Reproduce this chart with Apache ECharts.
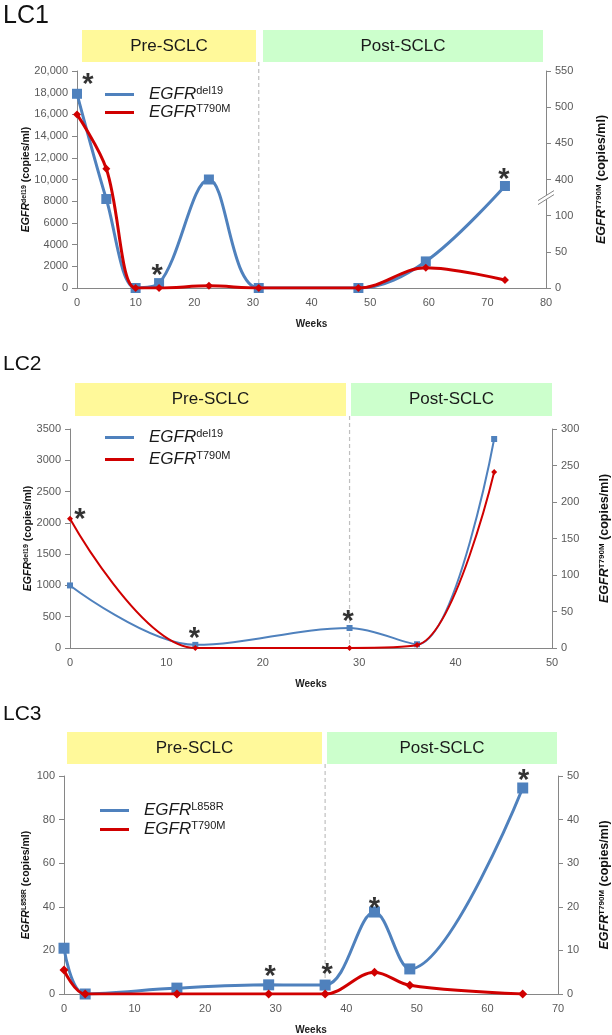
<!DOCTYPE html>
<html><head><meta charset="utf-8">
<script src="https://cdn.jsdelivr.net/npm/echarts@6/dist/echarts.min.js"></script>
<style>html,body{margin:0;padding:0;background:#fff}#c{width:612px;height:1035px}</style>
</head><body><div id="c"></div>
<script>
// ---------- DATA ----------
// LC1
const lc1Weeks = [0, 5, 10, 14, 22.5, 31, 48, 59.5, 73];
const lc1Del19 = [17900, 8200, 0, 450, 10000, 0, 0, 2450, 9400];
const lc1T790M = [490, 415, 0, 0, 3, 0, 0, 28, 11];
const lc1StarWeeks = [0, 14, 73];
const lc1StarOn = ['a', 'a', 'a'];
const lc1RightTicks = ['0', '50', '100', '400', '450', '500', '550'];
const lc1Boundary = 31;
// LC2
const lc2Weeks = [0, 13, 29, 36, 44];
const lc2Del19 = [1000, 50, 320, 60, 3340];
const lc2T790M = [177, 0, 0, 4, 241];
const lc2StarWeeks = [0, 13, 29];
const lc2StarOn = ['b', 'a', 'a'];
const lc2Boundary = 29;
// LC3
const lc3Weeks = [0, 3, 16, 29, 37, 44, 49, 65];
const lc3L858R = [21, 0, 2.7, 4.2, 4.1, 37.6, 11.5, 94.5];
const lc3T790M = [5.5, 0, 0, 0, 0, 5, 2, 0];
const lc3StarWeeks = [29, 37, 44, 65];
const lc3StarOn = ['a', 'a', 'a', 'a'];
const lc3Boundary = 37;

// ---------- STYLE / LAYOUT ----------
const FONT = '"Liberation Sans", Arial, sans-serif';
const BLUE = '#4F81BD', RED = '#D00000';
const AXIS = '#868686', LBL = '#595959';
const YELLOW = '#FFF99A', GREEN = '#CCFFCC';
const starOffsets = {
  1: [[11, -8.5], [-2, -7.5], [-1, -6.5]],
  2: [[10, 1.5], [-1, -5.5], [-1.5, -5.5]],
  3: [[1.5, -7.5], [2, -10.5], [0, -3.5], [1, -6.5]]
};
const panels = [
  {grid: {left: 77, right: 66, top: 71, height: 217}, title: 'LC1', titleSize: 25, titleY: 16,
   boxes: [[82, 30, 174, 32], [263, 30, 280, 32]], lw: 3, bs: 10, rs: 8,
   legendTop: 80, legendLeft: 100, legendGap: 0, leftNameGap: 45, rightNameGap: 49},
  {grid: {left: 70, right: 60, top: 429, height: 219}, title: 'LC2', titleSize: 21, titleY: 364,
   boxes: [[75, 383, 271, 33], [351, 383, 201, 33]], lw: 2, bs: 6, rs: 6,
   legendTop: 423, legendLeft: 100, legendGap: 4, leftNameGap: 36, rightNameGap: 46},
  {grid: {left: 64, right: 54, top: 776, height: 218}, title: 'LC3', titleSize: 21, titleY: 714,
   boxes: [[67, 732, 255, 32], [327, 732, 230, 32]], lw: 3, bs: 11, rs: 9,
   legendTop: 796, legendLeft: 95, legendGap: 1, leftNameGap: 32, rightNameGap: 40}
];

const lc1Map = v => v <= 100 ? v : v - 250; // broken right axis of LC1

const panelData = [
  {weeks: lc1Weeks, a: lc1Del19, b: lc1T790M, aName: 'del19', bMap: lc1Map,
   stars: lc1StarWeeks, starOn: lc1StarOn, boundary: lc1Boundary,
   x: {max: 80, interval: 10}, yl: {max: 20000, interval: 2000}, yr: {max: 300, interval: 50}},
  {weeks: lc2Weeks, a: lc2Del19, b: lc2T790M, aName: 'del19', bMap: v => v,
   stars: lc2StarWeeks, starOn: lc2StarOn, boundary: lc2Boundary,
   x: {max: 50, interval: 10}, yl: {max: 3500, interval: 500}, yr: {max: 300, interval: 50}},
  {weeks: lc3Weeks, a: lc3L858R, b: lc3T790M, aName: 'L858R', bMap: v => v,
   stars: lc3StarWeeks, starOn: lc3StarOn, boundary: lc3Boundary,
   x: {max: 70, interval: 10}, yl: {max: 100, interval: 20}, yr: {max: 50, interval: 10}}
];

function axisBase() {
  return {
    axisLine: {show: true, lineStyle: {color: AXIS, width: 1}},
    axisTick: {show: true, length: 5, lineStyle: {color: AXIS}},
    axisLabel: {color: LBL, fontSize: 11, fontFamily: FONT, margin: 9, formatter: v => String(v)},
    splitLine: {show: false},
    nameMoveOverlap: false
  };
}
const nameRich = (size) => ({
  e: {fontStyle: 'italic', fontWeight: 'bold', fontSize: size, fontFamily: FONT, color: '#111'},
  s: {fontWeight: 'bold', fontSize: Math.round(size * 0.62), fontFamily: FONT, color: '#111', verticalAlign: 'top', lineHeight: size * 0.9},
  t: {fontWeight: 'bold', fontSize: size, fontFamily: FONT, color: '#111'}
});

const grid = [], xAxis = [], yAxis = [], series = [], legend = [];
panels.forEach((p, k) => {
  const d = panelData[k];
  grid.push(Object.assign({outerBoundsMode: 'none', containLabel: false}, p.grid));
  xAxis.push(Object.assign(axisBase(), {
    type: 'value', gridIndex: k, min: 0, max: d.x.max, interval: d.x.interval,
    axisTick: {show: false},
    name: 'Weeks', nameLocation: 'middle', nameGap: 31,
    nameTextStyle: {fontWeight: 'bold', fontSize: 10, fontFamily: FONT, color: '#222'}
  }));
  const left = Object.assign(axisBase(), {
    type: 'value', gridIndex: k, position: 'left', min: 0, max: d.yl.max, interval: d.yl.interval,
    name: '{e|EGFR}{s|' + d.aName + '}{t| (copies/ml)}', nameLocation: 'middle', nameRotate: 90,
    nameGap: p.leftNameGap, nameTextStyle: {rich: nameRich(10.5)}
  });
  if (k === 0) left.axisLabel.formatter = v => v >= 10000 ? v.toLocaleString('en-US') : String(v);
  yAxis.push(left);
  const right = Object.assign(axisBase(), {
    type: 'value', gridIndex: k, position: 'right', min: 0, max: d.yr.max, interval: d.yr.interval,
    name: '{e|EGFR}{s|T790M}{t| (copies/ml)}', nameLocation: 'middle', nameRotate: 90,
    nameGap: p.rightNameGap, nameTextStyle: {rich: nameRich(12.5)}
  });
  if (k === 0) right.axisLabel.formatter = v => lc1RightTicks[Math.round(v / 50)];
  yAxis.push(right);

  const nA = 'LC' + (k + 1) + ' ' + d.aName, nB = 'LC' + (k + 1) + ' T790M';
  series.push({
    name: nA, type: 'line', xAxisIndex: k, yAxisIndex: 2 * k, smooth: 0.35,
    data: d.weeks.map((w, i) => [w, d.a[i]]),
    symbol: 'rect', symbolSize: p.bs, showAllSymbol: true,
    lineStyle: {color: BLUE, width: p.lw}, itemStyle: {color: BLUE}, z: 2
  });
  series.push({
    name: nB, type: 'line', xAxisIndex: k, yAxisIndex: 2 * k + 1, smooth: 0.35,
    data: d.weeks.map((w, i) => [w, d.bMap(d.b[i])]),
    symbol: 'diamond', symbolSize: p.rs, showAllSymbol: true,
    lineStyle: {color: RED, width: p.lw}, itemStyle: {color: RED}, z: 3
  });
  // asterisks
  const offs = starOffsets[k + 1];
  ['a', 'b'].forEach(which => {
    const pts = [];
    d.stars.forEach((w, j) => {
      if (d.starOn[j] !== which) return;
      const i = d.weeks.indexOf(w);
      const v = which === 'a' ? d.a[i] : d.bMap(d.b[i]);
      pts.push({value: [w, v], label: {offset: offs[j]}});
    });
    if (!pts.length) return;
    series.push({
      type: 'scatter', xAxisIndex: k, yAxisIndex: which === 'a' ? 2 * k : 2 * k + 1,
      data: pts, symbolSize: 1, itemStyle: {color: 'rgba(0,0,0,0)'}, silent: true, z: 5,
      label: {show: true, position: 'inside', formatter: '*', fontSize: 29, fontWeight: 'bold',
        fontFamily: FONT, color: '#000'}
    });
  });
  legend.push({
    orient: 'vertical', left: p.legendLeft, top: p.legendTop, data: [nA, nB],
    icon: 'rect', itemWidth: 29, itemHeight: 3, itemGap: p.legendGap,
    formatter: n => '{e|EGFR}{s|' + n.split(' ')[1] + '}',
    textStyle: {padding: [0, 0, 0, 10], rich: {
      e: {fontStyle: 'italic', fontSize: 17, fontFamily: FONT, color: '#1a1a1a', lineHeight: 19},
      s: {fontSize: 11, fontFamily: FONT, color: '#1a1a1a', verticalAlign: 'top', lineHeight: 13}
    }}
  });
});

const chart = echarts.init(document.getElementById('c'), null, {renderer: 'canvas'});
chart.setOption({animation: false, backgroundColor: '#fff', grid, xAxis, yAxis, series, legend});

// ---------- decorations (boxes, titles, dashed dividers, axis break) ----------
const graphic = [];
panels.forEach((p, k) => {
  const d = panelData[k];
  graphic.push({type: 'text', style: {text: p.title, x: 3, y: p.titleY, verticalAlign: 'middle',
    fontSize: p.titleSize, fontFamily: FONT, fill: '#111'}});
  const labels = ['Pre-SCLC', 'Post-SCLC'], fills = [YELLOW, GREEN];
  p.boxes.forEach((b, j) => {
    graphic.push({type: 'rect', shape: {x: b[0], y: b[1], width: b[2], height: b[3]}, style: {fill: fills[j]}, z: 1});
    graphic.push({type: 'text', z: 2, style: {text: labels[j], x: b[0] + b[2] / 2, y: b[1] + b[3] / 2,
      align: 'center', verticalAlign: 'middle', fontSize: 17, fontFamily: FONT, fill: '#1a1a1a'}});
  });
  const px = chart.convertToPixel({xAxisIndex: k}, d.boundary);
  const yb = chart.convertToPixel({yAxisIndex: 2 * k}, 0);
  const yt = p.boxes[0][1] + p.boxes[0][3];
  graphic.push({type: 'line', shape: {x1: px, y1: yt, x2: px, y2: yb},
    style: {stroke: '#BFBFBF', lineWidth: 1.2, lineDash: [4, 3]}, z: 0});
});
// LC1 right-axis break mark
(function () {
  const ax = chart.convertToPixel({xAxisIndex: 0}, 80);
  const ay = chart.convertToPixel({yAxisIndex: 1}, 125);
  graphic.push({type: 'polygon', z: 10, shape: {points: [[ax - 8, ay + 3], [ax + 8, ay - 7], [ax + 8, ay - 3], [ax - 8, ay + 7]]},
    style: {fill: '#fff'}});
  graphic.push({type: 'line', z: 11, shape: {x1: ax - 8, y1: ay + 3, x2: ax + 8, y2: ay - 7}, style: {stroke: AXIS, lineWidth: 1}});
  graphic.push({type: 'line', z: 11, shape: {x1: ax - 8, y1: ay + 7, x2: ax + 8, y2: ay - 3}, style: {stroke: AXIS, lineWidth: 1}});
})();
chart.setOption({graphic});
</script></body></html>
